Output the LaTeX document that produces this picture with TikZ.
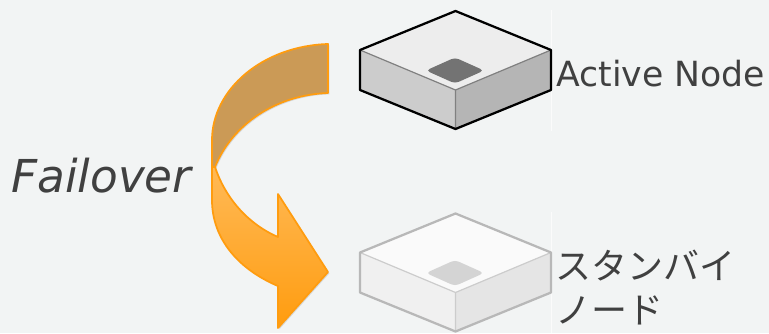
\documentclass[tikz,border=0pt]{standalone}
\usepackage{fontspec}
\setmainfont{DejaVu Sans}
\newfontfamily\jpfont{Noto Sans CJK JP}
\usetikzlibrary{shadows}
\definecolor{pagebg}{HTML}{F2F4F4}
\definecolor{labelgray}{HTML}{404040}
\definecolor{arrowedge}{HTML}{FF9C0F}
\definecolor{arrowtan}{HTML}{CB9A56}
% one box: y offset, edge, top, left, right, inner line, square
\newcommand{\nodebox}[7]{
	\begin{scope}[yshift=#1*-0.75pt]
		\fill[#3] (455.5,11) -- (551,50) -- (455.5,90) -- (360,50) -- cycle;
		\fill[#4] (360,50) -- (455.5,90) -- (455.5,129) -- (360,90) -- cycle;
		\fill[#5] (551,50) -- (455.5,90) -- (455.5,129) -- (551,90) -- cycle;
		\draw[#6, line width=0.9pt] (360,50) -- (455.5,90) -- (551,50) (455.5,90) -- (455.5,129);
		\draw[#2, line width=1.7pt, line join=round] (455.5,11) -- (551,50) -- (551,90) -- (455.5,129) -- (360,90) -- (360,50) -- cycle;
		\fill[#7, rounded corners=3pt] (426,70.5) -- (455,57.5) -- (484,70.5) -- (455,83.5) -- cycle;
	\end{scope}
}
\begin{document}
\begin{tikzpicture}[x=0.75pt, y=-0.75pt, lbl/.style={text=labelgray, inner sep=0pt, anchor=base west},
	swoop/.style={draw=arrowedge, line width=1.3pt, line join=round, drop shadow={shadow xshift=1pt, shadow yshift=-1pt, opacity=0.25}}]
	\useasboundingbox (0,0) rectangle (769,333);
	\fill[pagebg] (0,0) rectangle (769,333);
	\draw[white, opacity=0.7, line width=0.5pt] (551,10) -- (551,131) (551,212) -- (551,333);
	% failover arrow
	\path[swoop, fill=arrowtan] (328,44) .. controls (262,46) and (212,90) .. (212,140) -- (212,167) -- (215,167) .. controls (232,125) and (275,95) .. (328,93) -- cycle;
	\path[swoop, top color=arrowedge!70!white, bottom color=arrowedge] (215,167) .. controls (226,200) and (250,225) .. (278,237) -- (278,194) -- (328,272) -- (278,328) -- (278,286) .. controls (240,270) and (212,240) .. (212,200) -- (212,167) -- cycle;
	% boxes
	\nodebox{0}{black}{black!7}{black!20}{black!29}{black!50}{black!55}
	\nodebox{202.5}{black!28}{black!2}{black!6}{black!10}{black!20}{black!17}
	% labels
	\node[lbl, font=\fontsize{26}{30}\selectfont] (active) at (556,86) {Active Node};
	\node[lbl, font=\fontsize{34}{38}\selectfont\itshape] (failover) at (11,192) {Failover};
	\node[lbl, font=\fontsize{27}{33}\selectfont\jpfont] (standby1) at (555,279) {スタンバイ};
	\node[lbl, font=\fontsize{27}{33}\selectfont\jpfont] (standby2) at (555,323) {ノード};
\end{tikzpicture}
\end{document}
